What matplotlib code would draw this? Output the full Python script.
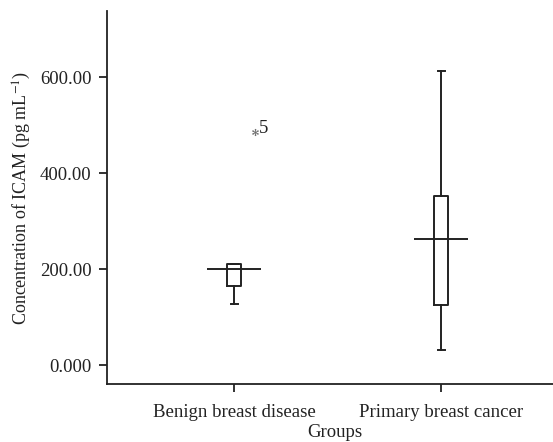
import matplotlib
matplotlib.use("Agg")
import matplotlib.pyplot as plt
from matplotlib.ticker import FixedLocator, FixedFormatter

groups = ["Benign breast disease", "Primary breast cancer"]
whisker_low = [127, 33]
q1 = [165, 126]
median = [201, 263]
q3 = [212, 353]
whisker_high = [212, 613]
outlier_values = [486]
outlier_group = [0]
outlier_labels = ["5"]

y_ticks = [0, 200, 400, 600]
y_tick_labels = ["0.000", "200.00", "400.00", "600.00"]

plt.rcParams["font.family"] = ["Liberation Serif", "DejaVu Serif"]
plt.rcParams["mathtext.fontset"] = "stix"

fig = plt.figure(figsize=(5.53, 4.42), dpi=100)
ax = fig.add_axes([0.1935, 0.131, 0.8065, 0.844])

positions = [1, 2]
stats = []
for i, name in enumerate(groups):
    stats.append({
        "label": name,
        "whislo": whisker_low[i],
        "q1": q1[i],
        "med": median[i],
        "q3": q3[i],
        "whishi": whisker_high[i],
        "fliers": [],
    })

ink = "#222222"
line = dict(color=ink, linewidth=1.4)
ax.bxp(stats, positions=positions, widths=0.067, showfliers=False,
       boxprops=line, whiskerprops=line, capprops=line,
       medianprops=dict(visible=False))
# long median bars, wider than the boxes
ax.hlines(median, [p - 0.13 for p in positions], [p + 0.13 for p in positions],
          color=ink, linewidth=1.4)

for v, g, lab in zip(outlier_values, outlier_group, outlier_labels):
    x = positions[g] + 0.1
    ax.plot([x], [v], marker="$\\ast$", color="#666666", markersize=5,
            markeredgewidth=0.2, linestyle="none")
    ax.text(x + 0.02, v + 8, lab, fontsize=13.5, ha="left", va="center",
            color=ink)

ax.set_xlim(0.386, 2.54)
ax.set_ylim(-39, 738)
ax.yaxis.set_major_locator(FixedLocator(y_ticks))
ax.yaxis.set_major_formatter(FixedFormatter(y_tick_labels))
ax.set_xticks(positions)
ax.set_xticklabels(groups)

for side in ["top", "right"]:
    ax.spines[side].set_visible(False)
for side in ["left", "bottom"]:
    ax.spines[side].set_linewidth(1.3)
    ax.spines[side].set_color(ink)

ax.tick_params(axis="both", direction="out", length=6, width=1.3,
               color=ink, labelsize=13.5, labelcolor=ink)
ax.tick_params(axis="x", pad=8)
ax.tick_params(axis="y", pad=5)

ax.set_xlabel("Groups", fontsize=13.5, color=ink)
ax.xaxis.set_label_coords(0.511, -0.108)
ax.set_ylabel("Concentration of ICAM (pg mL$^{-1}$)", fontsize=13,
              color=ink, labelpad=5)

fig.savefig("out.png", dpi=100)
